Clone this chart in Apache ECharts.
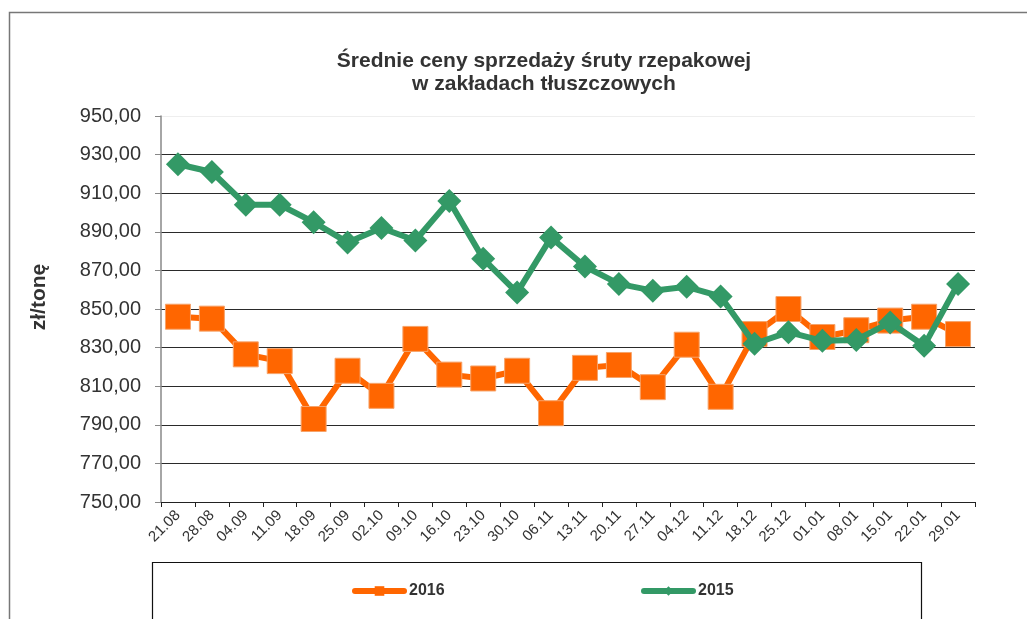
<!DOCTYPE html>
<html>
<head>
<meta charset="utf-8">
<script src="https://cdn.jsdelivr.net/npm/echarts@6/dist/echarts.min.js"></script>
<style>
html,body{margin:0;padding:0;background:#fff;}
#chart{width:1027px;height:619px;}
</style>
</head>
<body>
<div id="chart"></div>
<script>
var categories = ['21.08','28.08','04.09','11.09','18.09','25.09','02.10','09.10','16.10','23.10','30.10','06.11','13.11','20.11','27.11','04.12','11.12','18.12','25.12','01.01','08.01','15.01','22.01','29.01'];
var values2016 = [846, 845, 826.5, 823, 793, 818, 805, 834.5, 816, 814, 818, 796, 819.5, 821, 809.5, 831.5, 804.5, 837, 850, 835.5, 839, 844, 846, 837];
var values2015 = [925, 921, 904, 904, 895, 884.5, 892, 885.5, 906, 876, 858.5, 887, 872, 863, 859.5, 861.5, 856.5, 832, 838, 833.5, 834, 843, 831, 863];
var seriesNames = ['2016', '2015'];
var titleText = 'Średnie ceny sprzedaży śruty rzepakowej\nw zakładach tłuszczowych';
var yAxisName = 'zł/tonę';
var yMin = 750, yMax = 950, yStep = 20;

var FONT = '"Liberation Sans", Arial, sans-serif';
var chart = echarts.init(document.getElementById('chart'), null, {renderer: 'canvas'});

var gridColors = [];
for (var v = yMin; v <= yMax; v += yStep) gridColors.push(v === yMax ? '#eeeeee' : '#2a2a2a');

var legendBase = {
  top: 583,
  padding: 0,
  itemWidth: 49,
  itemHeight: 12,
  lineStyle: {width: 6, cap: 'round'},
  itemStyle: {borderWidth: 0},
  textStyle: {fontFamily: FONT, fontSize: 16, fontWeight: 'bold', color: '#333333'}
};

chart.setOption({
  animation: false,
  backgroundColor: '#ffffff',
  textStyle: {fontFamily: FONT},
  title: {
    text: titleText,
    left: 544,
    textAlign: 'center',
    top: 50,
    padding: 0,
    textStyle: {fontFamily: FONT, fontSize: 21, fontWeight: 'bold', color: '#333333', lineHeight: 23}
  },
  graphic: [
    {type: 'rect', silent: true, z: -1, shape: {x: 9.5, y: 12.5, width: 1100, height: 700}, style: {fill: 'none', stroke: '#777777', lineWidth: 1.5}},
    {type: 'rect', silent: true, shape: {x: 152.5, y: 562.5, width: 769, height: 60}, style: {fill: 'none', stroke: '#111111', lineWidth: 1.2}}
  ],
  legend: [
    Object.assign({}, legendBase, {left: 352, data: [seriesNames[0]]}),
    Object.assign({}, legendBase, {left: 641, data: [seriesNames[1]]})
  ],
  grid: {left: 161, right: 52, top: 116, bottom: 117, containLabel: false},
  xAxis: {
    type: 'category',
    data: categories,
    boundaryGap: true,
    axisLine: {lineStyle: {color: '#222222', width: 1}},
    axisTick: {show: true, length: 5, lineStyle: {color: '#222222'}},
    axisLabel: {rotate: 45, fontSize: 15, color: '#333333', margin: 11, fontFamily: FONT, interval: 0}
  },
  yAxis: {
    type: 'value',
    min: yMin,
    max: yMax,
    interval: yStep,
    name: yAxisName,
    nameLocation: 'middle',
    nameRotate: 90,
    nameGap: 111,
    nameTextStyle: {fontFamily: FONT, fontSize: 21, fontWeight: 'bold', color: '#333333', padding: [0, 0, 0, 24]},
    axisLine: {show: true, lineStyle: {color: '#888888', width: 1.5}},
    axisTick: {show: true, length: 6, lineStyle: {color: '#888888'}},
    axisLabel: {
      fontSize: 20, color: '#333333', margin: 20, fontFamily: FONT,
      formatter: function (val) { return val.toFixed(2).replace('.', ','); }
    },
    splitLine: {show: true, lineStyle: {color: gridColors, width: 1}}
  },
  series: [
    {
      name: seriesNames[0],
      type: 'line',
      data: values2016,
      color: '#FF6600',
      symbol: 'rect',
      symbolSize: 25,
      lineStyle: {width: 6, color: '#FF6600'},
      itemStyle: {color: '#FF6600', borderColor: '#F6A36A', borderWidth: 1},
      z: 2
    },
    {
      name: seriesNames[1],
      type: 'line',
      data: values2015,
      color: '#339966',
      symbol: 'diamond',
      symbolSize: 24,
      lineStyle: {width: 6, color: '#339966'},
      itemStyle: {color: '#339966'},
      z: 3
    }
  ]
});
</script>
</body>
</html>
